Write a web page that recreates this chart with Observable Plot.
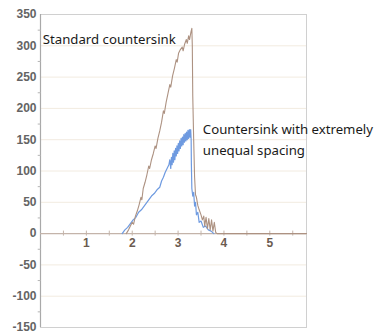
<!DOCTYPE html>
<html>
<head>
<meta charset="utf-8">
<script src="https://cdn.jsdelivr.net/npm/d3@7"></script>
<script src="https://cdn.jsdelivr.net/npm/@observablehq/plot@0.6"></script>
<style>
  html, body { margin: 0; padding: 0; background: #fff; }
  svg { display: block; }
</style>
</head>
<body>
<div id="chart"></div>
<script>
// Tick labels
const xTicks = [1, 2, 3, 4, 5];
const yTicks = [-150, -100, -50, 0, 50, 100, 150, 200, 250, 300, 350];
const yMinor = [-125, -75, -25, 25, 75, 125, 175, 225, 275, 325];
const xMinor = [0.5, 1, 1.5, 2, 2.5, 3, 3.5, 4, 4.5, 5, 5.5];

// Series: Standard countersink (x, y)
const standardX = [1.87,1.92,1.96,2.00,2.03,2.07,2.11,2.15,2.19,2.21,2.24,2.28,2.32,2.36,2.38,2.42,2.46,2.50,2.52,2.56,2.60,2.64,2.68,2.70,2.74,2.78,2.82,2.84,2.88,2.92,2.96,2.98,3.01,3.05,3.09,3.11,3.14,3.18,3.20,3.23,3.25,3.28,3.30,3.31,3.32,3.34,3.36,3.38,3.40,3.43,3.46,3.50,3.53,3.56,3.58,3.61,3.64,3.67,3.70,3.73,3.76,3.79,3.82,3.85,5.8];
const standardY = [0,6,12,18,15,28,36,46,58,54,72,82,94,108,104,118,128,140,136,152,164,178,196,192,210,224,238,234,252,264,278,274,288,294,298,292,302,310,304,316,310,322,328,300,220,150,90,62,58,45,38,30,22,28,12,26,8,24,6,22,4,18,2,0,0];

// Series: Countersink with extremely unequal spacing (x, y)
const unequalX = [1.78,1.84,1.90,1.96,2.02,2.08,2.14,2.20,2.24,2.30,2.36,2.42,2.48,2.54,2.60,2.64,2.68,2.72,2.76,2.80,2.82,2.84,2.855,2.87,2.885,2.90,2.915,2.93,2.945,2.96,2.975,2.99,3.005,3.02,3.035,3.05,3.065,3.08,3.095,3.11,3.125,3.14,3.155,3.17,3.185,3.20,3.215,3.23,3.245,3.26,3.275,3.285,3.29,3.30,3.32,3.34,3.36,3.38,3.40,3.43,3.46,3.50,3.55,3.60,3.66,3.72,3.78];
const unequalY = [0,6,10,16,22,26,34,38,42,48,54,60,64,70,74,84,90,98,104,110,118,104,122,110,128,114,132,118,136,124,140,128,144,132,148,136,152,140,154,142,158,146,160,148,162,150,165,152,166,154,166,150,110,72,60,66,44,50,30,34,18,20,10,12,6,4,0];

// Annotations
const labelText = ["Standard countersink", "Countersink with extremely", "unequal spacing"];
const labelX = [0.05, 3.54, 3.54];
const labelY = [309, 166, 133];

const standard = standardX.map((x, i) => ({x, y: standardY[i]}));
const unequal = unequalX.map((x, i) => ({x, y: unequalY[i]}));
const labels = labelText.map((t, i) => ({t, x: labelX[i], y: labelY[i]}));

const chart = Plot.plot({
  width: 375,
  height: 333,
  marginLeft: 40,
  marginRight: 69,
  marginTop: 14,
  marginBottom: 6,
  x: {domain: [0, 5.8], axis: null},
  y: {domain: [-150, 350], axis: null},
  style: {background: "#fff", overflow: "visible"},
  marks: [
    Plot.ruleY(yTicks.filter(d => d !== 0 && d !== 350 && d !== -150), {y: d => d, stroke: "#f2ebe0", strokeWidth: 1}),
    Plot.frame({stroke: "#d0d0d0", strokeWidth: 1}),
    Plot.ruleX([0], {stroke: "#a9a9a9", strokeWidth: 1.2}),
    Plot.ruleY(yMinor, {y: d => d, x1: -0.05, x2: 0.02, stroke: "#b5b5b5"}),
    Plot.ruleY([0], {stroke: "#c4b4aa", strokeWidth: 1.2}),
    Plot.ruleX(xMinor, {x: d => d, y1: -4, y2: 4, stroke: "#c4b4aa"}),
    Plot.line(unequal, {x: "x", y: "y", stroke: "#6e9ae0", strokeWidth: 1.2}),
    Plot.line(standard, {x: "x", y: "y", stroke: "#ad9282", strokeWidth: 1.1}),
    Plot.text(yTicks, {x: 0, y: d => d, text: d => String(d), textAnchor: "end", dx: -4, fontSize: 12, fontWeight: "bold", fill: "#646464", fontFamily: "Liberation Sans, Arial, sans-serif"}),
    Plot.text(xTicks, {x: d => d, y: 0, text: d => String(d), dy: 10, fontSize: 12, fontWeight: "bold", fill: "#6b5b50", fontFamily: "Liberation Sans, Arial, sans-serif"}),
    Plot.text(labels, {x: "x", y: "y", text: "t", textAnchor: "start", fontSize: 13.2, fill: "#1a1a1a", fontFamily: "Noto Sans, sans-serif"})
  ]
});
document.getElementById("chart").appendChild(chart);
</script>
</body>
</html>
